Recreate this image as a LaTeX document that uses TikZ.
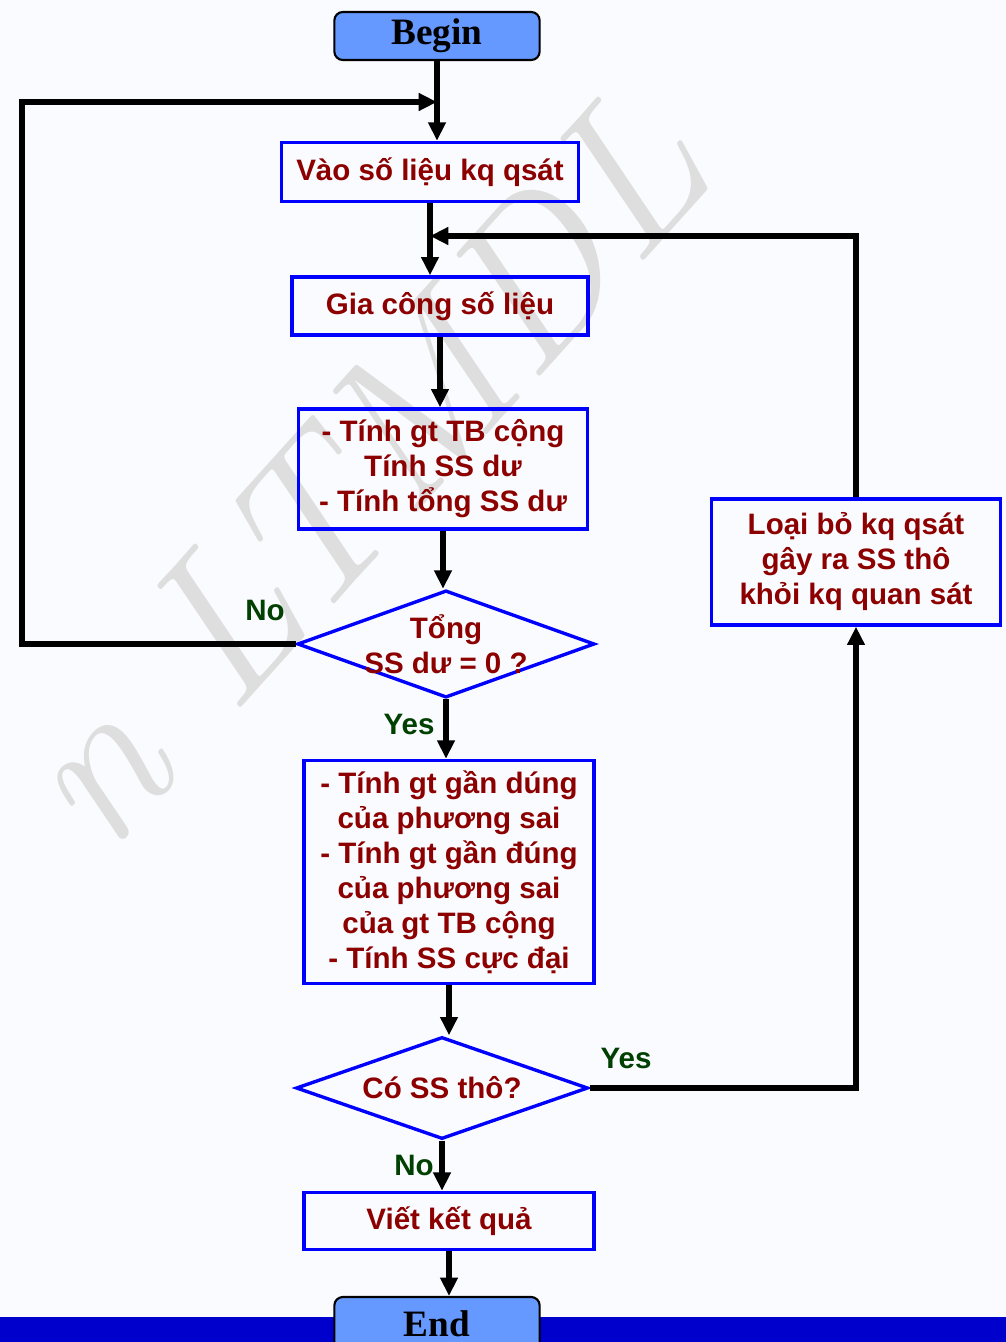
\documentclass[tikz,border=0pt]{standalone}
\usepackage{fontspec}
\setsansfont{Liberation Sans}
\newfontfamily\timesfont{Liberation Serif}
\usetikzlibrary{shapes.geometric,arrows.meta}
\definecolor{boxblue}{RGB}{0,0,255}
\definecolor{txtred}{RGB}{140,0,0}
\definecolor{lblgreen}{RGB}{0,64,0}
\definecolor{termfill}{RGB}{102,153,255}
\definecolor{barblue}{RGB}{0,0,204}
\definecolor{paper}{RGB}{250,251,255}

\begin{document}
\begin{tikzpicture}[x=0.025cm,y=-0.025cm,
    boxtext/.style={text=txtred,align=center,font=\sffamily\bfseries\fontsize{21}{24.9}\selectfont},
    proc/.style={boxtext,draw=boxblue,line width=2.4pt,inner sep=0pt},
    decide/.style={draw=boxblue,line width=2.4pt,shape=diamond,inner sep=0pt},
    term/.style={draw=black,line width=1.5pt,fill=termfill,rounded corners=6pt,
      font=\timesfont\bfseries\fontsize{26.5}{30}\selectfont,minimum width=5.13cm},
    lbl/.style={text=lblgreen,font=\sffamily\bfseries\fontsize{21}{24}\selectfont},
    flow/.style={line width=4pt,-{Triangle[length=13pt,width=12pt]}}]
    \useasboundingbox (0,0) rectangle (1006,1342);
    \fill[paper] (0,0) rectangle (1006,1342);
    \node[text=black!13,rotate=48,font=\itshape\fontsize{150}{150}\selectfont] (wm) at (360,470) {n LTMDL};
    \fill[barblue] (0,1317) rectangle (1006,1342);
    %% nodes
    \node[term,minimum height=1.2cm] (begin) at (437,36) {Begin};
    \node[proc,minimum width=7.43cm,minimum height=1.48cm] (vao) at (430,172) {Vào số liệu kq qsát};
    \node[proc,minimum width=7.4cm,minimum height=1.45cm] (gia) at (440,306) {Gia công số liệu};
    \node[proc,minimum width=7.23cm,minimum height=3cm] (calc1) at (443,469)
      {- Tính gt TB cộng\\Tính SS dư\\- Tính tổng SS dư};
    \node[decide,minimum width=7.43cm,minimum height=2.68cm,
      label={[boxtext]center:{Tổng\\SS dư = 0 ?}}] (d1) at (446,644) {};
    \node[proc,minimum width=7.25cm,minimum height=5.58cm] (calc2) at (449,872)
      {- Tính gt gần dúng\\của phương sai\\- Tính gt gần đúng\\của phương sai\\của gt TB cộng\\- Tính SS cực đại};
    \node[decide,minimum width=7.3cm,minimum height=2.55cm,
      label={[boxtext]center:{Có SS thô?}}] (d2) at (442,1088) {};
    \node[proc,minimum width=7.25cm,minimum height=1.43cm] (viet) at (449,1221) {Viết kết quả};
    \node[term,minimum height=1.35cm] (end) at (437,1324) {End};
    \node[proc,minimum width=7.23cm,minimum height=3.15cm] (loai) at (856,562)
      {Loại bỏ kq qsát\\gây ra SS thô\\khỏi kq quan sát};
    \coordinate (lft) at (22,102);
    \coordinate (rgt) at (855,236);
    %% labels
    \node[lbl] (no1) at (265,610) {No};
    \node[lbl] (yes1) at (409,724) {Yes};
    \node[lbl] (yes2) at (626,1058) {Yes};
    \node[lbl] (no2) at (414,1165) {No};
    %% connectors
    \draw[flow] (begin) -- (begin |- vao.north);
    \draw[flow] (vao) -- (vao |- gia.north);
    \draw[flow] (gia) -- (gia |- calc1.north);
    \draw[flow] (calc1) -- (calc1 |- d1.north);
    \draw[flow] (d1.south) -- (d1.south |- calc2.north);
    \draw[flow] (calc2) -- (calc2 |- d2.north);
    \draw[flow] (d2.south) -- (d2.south |- viet.north);
    \draw[flow] (viet) -- (viet |- end.north);
    \draw[flow] (d1.west) -| (lft) -- (begin |- lft);
    \draw[flow] (loai) -- (loai |- rgt) -- (vao |- rgt);
    \draw[flow] (d2.east) -| (loai);
\end{tikzpicture}
\end{document}
